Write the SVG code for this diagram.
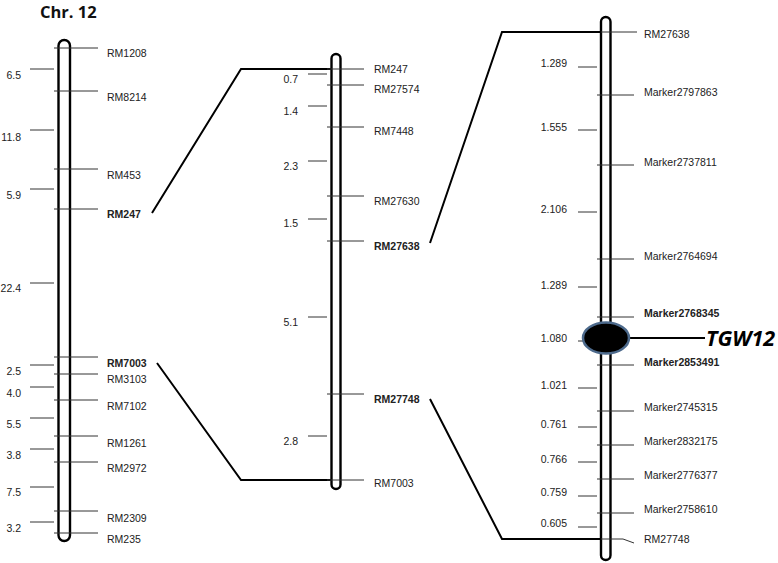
<svg xmlns="http://www.w3.org/2000/svg" width="778" height="563" viewBox="0 0 778 563">
<style>
.chr{fill:#fff;stroke:#000;stroke-width:2.4}
.tk{stroke:#333;stroke-width:1}
.lb{font-family:"Liberation Sans",Arial,sans-serif;font-size:10.5px;fill:#222}
.b{font-weight:bold}
.dl{font-family:"Liberation Sans",Arial,sans-serif;font-size:10.5px;fill:#222;text-anchor:end}
.cn{fill:none;stroke:#000;stroke-width:2}
</style>
<rect width="778" height="563" fill="#fff"/>
<text x="40" y="17.5" font-family="'Open Sans',sans-serif" font-weight="bold" font-size="16.5" fill="#111">Chr. 12</text>

<g id="connectors">
<polyline class="cn" points="152,213 241,69 332,69"/>
<polyline class="cn" points="157,363 241,480 332,480"/>
<polyline class="cn" points="430,243 502,32 601,32"/>
<polyline class="cn" points="430,399 502,539 601,539"/>
<line class="cn" x1="628" y1="338" x2="705" y2="338"/>
</g>

<g id="chr1">
<rect class="chr" x="58.5" y="40" width="11.5" height="501" rx="5.75"/>
<g class="tk">
<line x1="54" y1="48" x2="98" y2="48"/><line x1="54" y1="91" x2="98" y2="91"/>
<line x1="54" y1="169" x2="98" y2="169"/><line x1="54" y1="209" x2="98" y2="209"/>
<line x1="54" y1="357" x2="98" y2="357"/><line x1="54" y1="374" x2="98" y2="374"/>
<line x1="54" y1="400" x2="98" y2="400"/><line x1="54" y1="436" x2="98" y2="436"/>
<line x1="54" y1="462" x2="98" y2="462"/><line x1="54" y1="511" x2="98" y2="511"/>
<line x1="54" y1="533" x2="98" y2="533"/>
<line x1="30" y1="69" x2="54" y2="69"/><line x1="30" y1="130" x2="54" y2="130"/>
<line x1="30" y1="189" x2="54" y2="189"/><line x1="30" y1="283" x2="54" y2="283"/>
<line x1="30" y1="365" x2="54" y2="365"/><line x1="30" y1="387" x2="54" y2="387"/>
<line x1="30" y1="418" x2="54" y2="418"/><line x1="30" y1="449" x2="54" y2="449"/>
<line x1="30" y1="487" x2="54" y2="487"/><line x1="30" y1="522" x2="54" y2="522"/>
</g>
<text class="lb" x="107" y="57">RM1208</text>
<text class="lb" x="107" y="101">RM8214</text>
<text class="lb" x="107" y="179">RM453</text>
<text class="lb b" x="107" y="218">RM247</text>
<text class="lb b" x="107" y="367">RM7003</text>
<text class="lb" x="107" y="383">RM3103</text>
<text class="lb" x="107" y="410">RM7102</text>
<text class="lb" x="107" y="447">RM1261</text>
<text class="lb" x="107" y="472">RM2972</text>
<text class="lb" x="107" y="522">RM2309</text>
<text class="lb" x="107" y="543">RM235</text>
<text class="dl" x="21" y="79">6.5</text>
<text class="dl" x="21" y="141">11.8</text>
<text class="dl" x="21" y="199">5.9</text>
<text class="dl" x="21" y="292">22.4</text>
<text class="dl" x="21" y="375">2.5</text>
<text class="dl" x="21" y="397">4.0</text>
<text class="dl" x="21" y="428">5.5</text>
<text class="dl" x="21" y="459">3.8</text>
<text class="dl" x="21" y="496">7.5</text>
<text class="dl" x="21" y="532">3.2</text>
</g>

<g id="chr2">
<rect class="chr" x="331.5" y="54" width="9" height="435" rx="4.5"/>
<g class="tk">
<line x1="327" y1="69" x2="364" y2="69"/><line x1="327" y1="85" x2="364" y2="85"/>
<line x1="327" y1="127" x2="364" y2="127"/><line x1="327" y1="196" x2="364" y2="196"/>
<line x1="327" y1="241" x2="364" y2="241"/><line x1="327" y1="394" x2="364" y2="394"/>
<line x1="327" y1="480" x2="364" y2="480"/>
<line x1="308" y1="74" x2="327" y2="74"/><line x1="308" y1="106" x2="327" y2="106"/>
<line x1="308" y1="161" x2="327" y2="161"/><line x1="308" y1="219" x2="327" y2="219"/>
<line x1="308" y1="317" x2="327" y2="317"/><line x1="308" y1="436" x2="327" y2="436"/>
</g>
<text class="lb" x="374" y="73">RM247</text>
<text class="lb" x="374" y="93">RM27574</text>
<text class="lb" x="374" y="135">RM7448</text>
<text class="lb" x="374" y="205">RM27630</text>
<text class="lb b" x="374" y="250">RM27638</text>
<text class="lb b" x="374" y="403">RM27748</text>
<text class="lb" x="374" y="487">RM7003</text>
<text class="dl" x="298" y="83">0.7</text>
<text class="dl" x="298" y="115">1.4</text>
<text class="dl" x="298" y="170">2.3</text>
<text class="dl" x="298" y="227">1.5</text>
<text class="dl" x="298" y="326">5.1</text>
<text class="dl" x="298" y="445">2.8</text>
</g>

<g id="chr3">
<rect class="chr" x="601" y="17" width="9.5" height="543" rx="4.75"/>
<g class="tk">
<line x1="601" y1="32" x2="637" y2="32"/>
<line x1="597" y1="95" x2="634" y2="95"/><line x1="597" y1="165" x2="634" y2="165"/>
<line x1="597" y1="259" x2="634" y2="259"/><line x1="597" y1="317" x2="634" y2="317"/>
<line x1="597" y1="365" x2="634" y2="365"/><line x1="597" y1="411" x2="634" y2="411"/>
<line x1="597" y1="445" x2="634" y2="445"/><line x1="597" y1="479" x2="634" y2="479"/>
<line x1="597" y1="513" x2="634" y2="513"/>
<polyline fill="none" points="601,539 623,539 634,543"/>
<line x1="578" y1="67" x2="597" y2="67"/><line x1="578" y1="130" x2="597" y2="130"/>
<line x1="578" y1="212" x2="597" y2="212"/><line x1="578" y1="287" x2="597" y2="287"/>
<line x1="578" y1="341" x2="597" y2="341"/><line x1="578" y1="388" x2="597" y2="388"/>
<line x1="578" y1="427" x2="597" y2="427"/><line x1="578" y1="462" x2="597" y2="462"/>
<line x1="578" y1="496" x2="597" y2="496"/><line x1="578" y1="527" x2="597" y2="527"/>
</g>
<text class="lb" x="644" y="38">RM27638</text>
<text class="lb" x="644" y="96">Marker2797863</text>
<text class="lb" x="644" y="166">Marker2737811</text>
<text class="lb" x="644" y="260">Marker2764694</text>
<text class="lb b" x="644" y="317">Marker2768345</text>
<text class="lb b" x="644" y="366">Marker2853491</text>
<text class="lb" x="644" y="411">Marker2745315</text>
<text class="lb" x="644" y="445">Marker2832175</text>
<text class="lb" x="644" y="479">Marker2776377</text>
<text class="lb" x="644" y="513">Marker2758610</text>
<text class="lb" x="644" y="543">RM27748</text>
<text class="dl" x="567" y="67">1.289</text>
<text class="dl" x="567" y="131">1.555</text>
<text class="dl" x="567" y="213">2.106</text>
<text class="dl" x="567" y="289">1.289</text>
<text class="dl" x="567" y="342">1.080</text>
<text class="dl" x="567" y="389">1.021</text>
<text class="dl" x="567" y="428">0.761</text>
<text class="dl" x="567" y="463">0.766</text>
<text class="dl" x="567" y="496">0.759</text>
<text class="dl" x="567" y="527">0.605</text>
</g>

<g id="tgw12">
<ellipse cx="606" cy="338" rx="23" ry="15.5" fill="#000" stroke="#4d6a8c" stroke-width="2.5"/>
<text x="706" y="345.5" font-family="'Open Sans',sans-serif" font-weight="bold" font-style="italic" font-size="21.5" fill="#000">TGW12</text>
</g>
</svg>
